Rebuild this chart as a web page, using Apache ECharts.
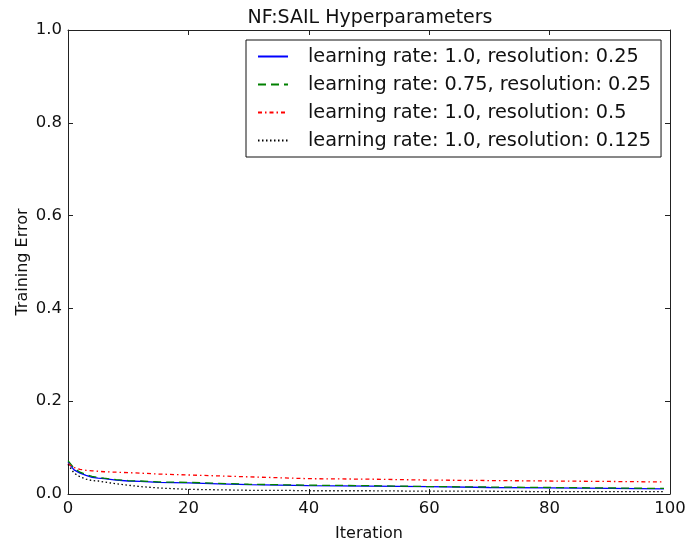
<!DOCTYPE html>
<html>
<head>
<meta charset="utf-8">
<script src="https://cdn.jsdelivr.net/npm/echarts@6/dist/echarts.min.js"></script>
<style>
  html, body { margin: 0; padding: 0; background: #fff; }
  #chart { width: 700px; height: 542px; }
</style>
</head>
<body>
<div id="chart"></div>
<script>
// 迭代次数（取样点）
var iterations = [0, 1, 2, 3, 4, 5, 6, 8, 10, 12, 15, 20, 25, 30, 35, 40, 50, 60, 70, 80, 90, 99];

var lr10Res025  = [0.068, 0.052, 0.045, 0.040, 0.036, 0.034, 0.033, 0.030, 0.028, 0.027, 0.025, 0.024, 0.022, 0.020, 0.019, 0.018, 0.017, 0.016, 0.014, 0.013, 0.012, 0.011];
var lr075Res025 = [0.072, 0.056, 0.047, 0.042, 0.038, 0.036, 0.034, 0.031, 0.029, 0.028, 0.026, 0.025, 0.023, 0.021, 0.020, 0.019, 0.018, 0.016, 0.015, 0.014, 0.013, 0.012];
var lr10Res05   = [0.065, 0.057, 0.053, 0.051, 0.050, 0.049, 0.048, 0.047, 0.046, 0.045, 0.043, 0.041, 0.039, 0.037, 0.035, 0.033, 0.032, 0.030, 0.029, 0.028, 0.027, 0.026];
var lr10Res0125 = [0.064, 0.045, 0.037, 0.032, 0.029, 0.028, 0.026, 0.022, 0.019, 0.016, 0.013, 0.010, 0.009, 0.008, 0.008, 0.007, 0.007, 0.006, 0.006, 0.005, 0.005, 0.005];

var seriesNames = [
    'learning rate: 1.0, resolution: 0.25',
    'learning rate: 0.75, resolution: 0.25',
    'learning rate: 1.0, resolution: 0.5',
    'learning rate: 1.0, resolution: 0.125'
];

var FONT = 'DejaVu Sans';

function pairs(values) {
    return iterations.map(function (it, i) { return [it, values[i]]; });
}

function makeLine(name, values, color, dash) {
    return {
        name: name,
        type: 'line',
        data: pairs(values),
        symbol: 'none',
        legendIcon: 'none',
        lineStyle: { color: color, width: 1.3, type: dash },
        itemStyle: { color: color },
        emphasis: { disabled: true }
    };
}

var myChart = echarts.init(document.getElementById('chart'));

// 四周边框 + 朝内的刻度
function frameAxis(extra) {
    return Object.assign({
        axisLine: { show: true, onZero: false, lineStyle: { color: '#222', width: 1 } },
        axisTick: { show: true, inside: true, length: 5, lineStyle: { color: '#222' } },
        splitLine: { show: false }
    }, extra);
}

var option = {
    animation: false,
    backgroundColor: '#fff',
    textStyle: { fontFamily: FONT },
    title: {
        text: 'NF:SAIL Hyperparameters',
        left: 365,
        textAlign: 'center',
        top: 4,
        textStyle: { fontFamily: FONT, fontSize: 19, fontWeight: 'normal', color: '#111' }
    },
    legend: {
        orient: 'vertical',
        left: 246,
        top: 40,
        padding: [7, 10, 7, 11],
        borderColor: '#111',
        borderWidth: 1,
        backgroundColor: '#fff',
        itemWidth: 30,
        itemHeight: 14,
        itemGap: 9,
        itemStyle: { opacity: 0 },
        textStyle: { fontFamily: FONT, fontSize: 19.3, color: '#111', padding: [0, 0, 0, 15] },
        data: seriesNames
    },
    grid: { left: 68, right: 30, top: 30, bottom: 48, outerBoundsMode: 'none' },
    xAxis: [
        frameAxis({
            type: 'value', min: 0, max: 100, interval: 20,
            name: 'Iteration', nameLocation: 'middle', nameGap: 32,
            nameTextStyle: { fontFamily: FONT, fontSize: 16, color: '#111' },
            axisLabel: { fontFamily: FONT, fontSize: 16.5, color: '#111', margin: 6 }
        }),
        frameAxis({
            type: 'value', min: 0, max: 100, interval: 20, position: 'top',
            axisLabel: { show: false }
        })
    ],
    yAxis: [
        frameAxis({
            type: 'value', min: 0, max: 1, interval: 0.2,
            name: 'Training Error', nameLocation: 'middle', nameGap: 37,
            nameMoveOverlap: false,
            nameTextStyle: { fontFamily: FONT, fontSize: 16, color: '#111' },
            axisLabel: {
                fontFamily: FONT, fontSize: 16.5, color: '#111', margin: 6,
                formatter: function (v) { return v.toFixed(1); }
            }
        }),
        frameAxis({
            type: 'value', min: 0, max: 1, interval: 0.2, position: 'right',
            axisLabel: { show: false }
        })
    ],
    series: [
        makeLine(seriesNames[0], lr10Res025, '#0000ff', 'solid'),
        makeLine(seriesNames[1], lr075Res025, '#008000', [8, 5]),
        makeLine(seriesNames[2], lr10Res05, '#ff0000', [4, 3, 1.5, 3]),
        makeLine(seriesNames[3], lr10Res0125, '#000000', [1.5, 2.5])
    ]
};

myChart.setOption(option);
</script>
</body>
</html>
